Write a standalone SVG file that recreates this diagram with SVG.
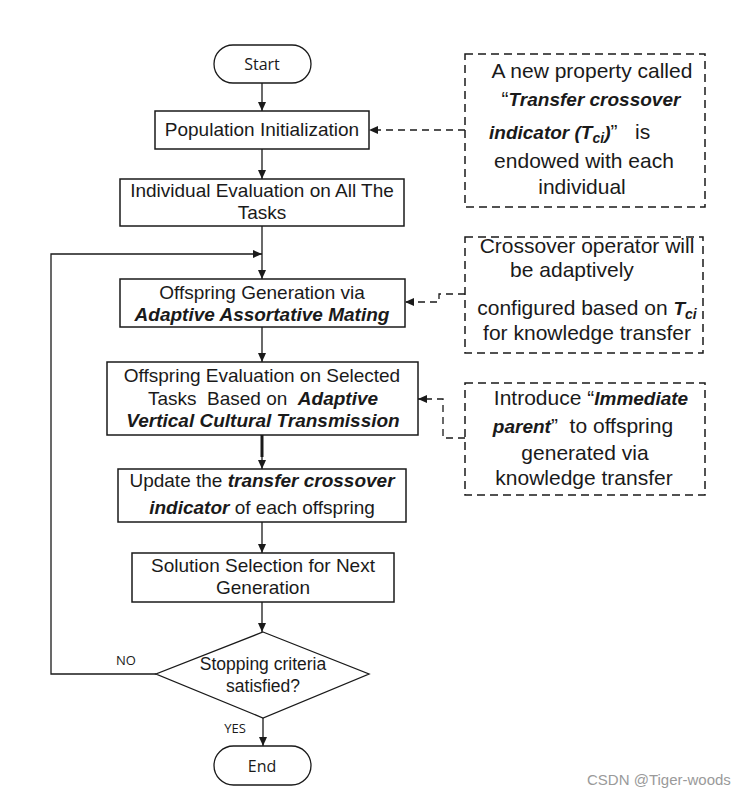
<svg xmlns="http://www.w3.org/2000/svg" width="752" height="798" viewBox="0 0 752 798">
<defs>
<marker id="arr" markerUnits="userSpaceOnUse" markerWidth="10" markerHeight="8" refX="9" refY="4" orient="auto"><path d="M0,0 L9,4 L0,8 z" fill="#1a1a1a"/></marker>
<style>
.box{fill:#fff;stroke:#1a1a1a;stroke-width:1.5}
.term{fill:#fff;stroke:#1a1a1a;stroke-width:1.3}
.call{fill:#fff;stroke:#1a1a1a;stroke-width:1.5;stroke-dasharray:8 5}
.ln{fill:none;stroke:#1a1a1a;stroke-width:1.3}
.dl{fill:none;stroke:#1a1a1a;stroke-width:1.3;stroke-dasharray:7 5}
.t{font-family:"Liberation Sans",Arial,sans-serif;font-size:19px;fill:#1a1a1a;text-anchor:middle}
.c{font-family:"Liberation Sans",Arial,sans-serif;font-size:21px;fill:#1a1a1a;text-anchor:middle}
.s{font-family:"Open Sans","Noto Sans",sans-serif;font-size:16px;fill:#1a1a1a;text-anchor:middle}
.sm{font-family:"Open Sans","Noto Sans",sans-serif;font-size:13px;fill:#1a1a1a;text-anchor:middle}
.bi{font-weight:bold;font-style:italic}
.cbi{font-weight:bold;font-style:italic;font-size:19px}
.wm{font-family:"Liberation Sans",Arial,sans-serif;font-size:15px;fill:#9a9a9a}
</style>
</defs>
<rect width="752" height="798" fill="#fff"/>
<g id="connectors">
<line class="ln" x1="262" y1="83" x2="262" y2="111" marker-end="url(#arr)"/>
<line class="ln" x1="262" y1="149" x2="262" y2="179" marker-end="url(#arr)"/>
<line class="ln" x1="262" y1="226" x2="262" y2="279" marker-end="url(#arr)"/>
<line class="ln" x1="262" y1="327" x2="262" y2="362" marker-end="url(#arr)"/>
<line x1="262" y1="435" x2="262" y2="457" stroke="#1a1a1a" stroke-width="3"/>
<line class="ln" x1="262" y1="456" x2="262" y2="469" marker-end="url(#arr)"/>
<line class="ln" x1="262" y1="522" x2="262" y2="553" marker-end="url(#arr)"/>
<line class="ln" x1="262" y1="602" x2="262" y2="632" marker-end="url(#arr)"/>
<line class="ln" x1="263" y1="718" x2="263" y2="746" marker-end="url(#arr)"/>
<polyline class="ln" points="156,674 51,674 51,254 262,254" marker-end="url(#arr)"/>
<line class="dl" x1="465" y1="130" x2="369" y2="130" marker-end="url(#arr)"/>
<polyline class="dl" points="465,294 439,294 439,302 405,302" marker-end="url(#arr)"/>
<polyline class="dl" points="465,438 443,438 443,399 418,399" marker-end="url(#arr)"/>
</g>
<g id="start"><rect class="term" x="214" y="45" width="97" height="38" rx="19"/><text class="s" x="262" y="70">Start</text></g>
<g id="init"><rect class="box" x="155" y="111" width="214" height="38"/><text class="t" x="262" y="136">Population Initialization</text></g>
<g id="evalAll"><rect class="box" x="120" y="179" width="284" height="47"/><text class="t" x="262" y="197">Individual Evaluation on All The</text><text class="t" x="262" y="219">Tasks</text></g>
<g id="offGen"><rect class="box" x="120" y="279" width="285" height="48"/><text class="t" x="262" y="299">Offspring Generation via</text><text class="t bi" x="262" y="321">Adaptive Assortative Mating</text></g>
<g id="offEval"><rect class="box" x="107" y="362" width="311" height="73"/><text class="t" x="262" y="382">Offspring Evaluation on Selected</text><text class="t" x="263" y="405" xml:space="preserve">Tasks  Based on  <tspan class="bi">Adaptive</tspan></text><text class="t bi" x="263" y="427">Vertical Cultural Transmission</text></g>
<g id="update"><rect class="box" x="118" y="469" width="288" height="53"/><text class="t" x="262" y="487">Update the <tspan class="bi">transfer crossover</tspan></text><text class="t" x="262" y="514"><tspan class="bi">indicator</tspan> of each offspring</text></g>
<g id="select"><rect class="box" x="132" y="553" width="262" height="49"/><text class="t" x="263" y="572">Solution Selection for Next</text><text class="t" x="263" y="594">Generation</text></g>
<g id="stop"><polygon class="term" points="263,632 369,674 263,718 156,674"/><text class="t" x="263" y="670" style="font-size:17.5px">Stopping criteria</text><text class="t" x="263" y="692" style="font-size:17.5px">satisfied?</text></g>
<g id="end"><rect class="term" x="214" y="746" width="97" height="39" rx="19.5"/><text class="s" x="262" y="772">End</text></g>
<g id="labels"><text class="sm" x="126" y="665">NO</text><text class="sm" x="235" y="733">YES</text></g>
<g id="note1"><rect class="call" x="465" y="54" width="240" height="153"/>
<text class="c" x="592" y="78">A new property called</text>
<text class="c" x="591" y="106">“<tspan class="cbi">Transfer crossover</tspan></text>
<text class="c" x="489" y="139" style="text-anchor:start" xml:space="preserve"><tspan class="cbi">indicator (T</tspan><tspan class="cbi" style="font-size:14px" dy="4">ci</tspan><tspan class="cbi" dy="-4">)</tspan>”   is</text>
<text class="c" x="584" y="168">endowed with each</text>
<text class="c" x="582" y="194">individual</text></g>
<g id="note2"><rect class="call" x="465" y="237" width="238" height="116"/>
<text class="c" x="587" y="253">Crossover operator will</text>
<text class="c" x="572" y="277">be adaptively</text>
<text class="c" x="587" y="315">configured based on <tspan class="cbi">T</tspan><tspan class="cbi" style="font-size:14px" dy="4">ci</tspan></text>
<text class="c" x="587" y="340">for knowledge transfer</text></g>
<g id="note3"><rect class="call" x="465" y="383" width="240" height="112"/>
<text class="c" x="591" y="405">Introduce “<tspan class="cbi">Immediate</tspan></text>
<text class="c" x="583" y="433" xml:space="preserve"><tspan class="cbi">parent</tspan>”  to offspring</text>
<text class="c" x="585" y="460">generated via</text>
<text class="c" x="584" y="485">knowledge transfer</text></g>
<text class="wm" x="587" y="785">CSDN @Tiger-woods</text>
</svg>
